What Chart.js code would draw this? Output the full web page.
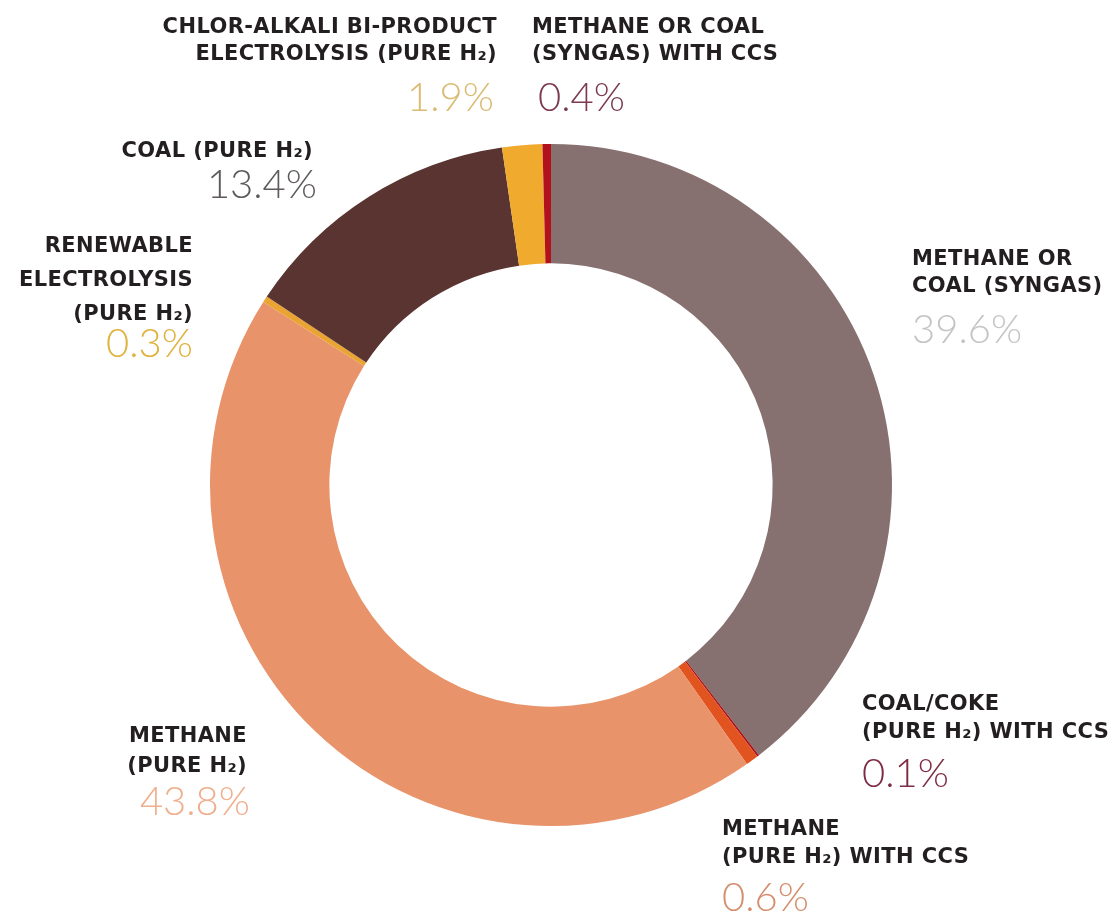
<!DOCTYPE html>
<html>
<head>
<meta charset="utf-8">
<script src="https://cdn.jsdelivr.net/npm/chart.js@4"></script>
<style>
  html, body { margin: 0; padding: 0; background: #ffffff; }
  #wrap { width: 1113px; height: 914px; position: relative; }
</style>
</head>
<body>
<div id="wrap"><canvas id="c" width="1113" height="914"></canvas></div>
<script>
// ---- data (clockwise from 12 o'clock) ----
const categories = [
  'Methane or coal (syngas)',
  'Coal/coke (pure H₂) with CCS',
  'Methane (pure H₂) with CCS',
  'Methane (pure H₂)',
  'Renewable electrolysis (pure H₂)',
  'Coal (pure H₂)',
  'Chlor-alkali bi-product electrolysis (pure H₂)',
  'Methane or coal (syngas) with CCS'
];
const shares = [39.6, 0.1, 0.6, 43.8, 0.3, 13.4, 1.9, 0.4];
const labelLines = [
  ['METHANE OR', 'COAL (SYNGAS)'],
  ['COAL/COKE', '(PURE H₂) WITH CCS'],
  ['METHANE', '(PURE H₂) WITH CCS'],
  ['METHANE', '(PURE H₂)'],
  ['RENEWABLE', 'ELECTROLYSIS', '(PURE H₂)'],
  ['COAL (PURE H₂)'],
  ['CHLOR-ALKALI BI-PRODUCT', 'ELECTROLYSIS (PURE H₂)'],
  ['METHANE OR COAL', '(SYNGAS) WITH CCS']
];

// ---- styles ----
const sliceColors = ['#877170', '#a8141e', '#e2541f', '#e8936a', '#e9a434', '#5a3430', '#f0aa2e', '#b3121c'];
const pctColors   = ['#c4c4c4', '#7e2c44', '#d48e6e', '#f0ae8c', '#e0b23e', '#5f5a5a', '#d9bb72', '#7c3a4f'];

// ---- label layout (pixel positions of text blocks) ----
const labelLayout = [
  { align: 'left',  x: 912, lines: [265, 292],      pct: 343, px: 912 },
  { align: 'left',  x: 862, lines: [710, 738],      pct: 787, px: 862 },
  { align: 'left',  x: 722, lines: [835, 863],      pct: 911, px: 722 },
  { align: 'right', x: 247, lines: [742, 772],      pct: 815, px: 250 },
  { align: 'right', x: 193, lines: [252, 286, 320], pct: 357, px: 193 },
  { align: 'right', x: 313, lines: [157],           pct: 198, px: 317 },
  { align: 'right', x: 497, lines: [33, 60],        pct: 111, px: 494 },
  { align: 'left',  x: 532, lines: [33, 60],        pct: 111, px: 538 }
];

const labelPlugin = {
  id: 'sliceLabels',
  afterDraw(chart) {
    const ctx = chart.ctx;
    ctx.save();
    labelLayout.forEach((L, i) => {
      ctx.textAlign = L.align;
      ctx.textBaseline = 'alphabetic';
      ctx.fillStyle = '#231f20';
      ctx.font = 'bold 21px "DejaVu Sans", sans-serif';
      if ('letterSpacing' in ctx) ctx.letterSpacing = '0.4px';
      labelLines[i].forEach((t, k) => ctx.fillText(t, L.x, L.lines[k]));
      if ('letterSpacing' in ctx) ctx.letterSpacing = '0px';
      ctx.fillStyle = pctColors[i];
      ctx.font = '300 40px Lato, "Open Sans", sans-serif';
      ctx.fillText(shares[i].toFixed(1) + '%', L.px, L.pct);
    });
    ctx.restore();
  }
};

new Chart(document.getElementById('c'), {
  type: 'doughnut',
  data: {
    labels: categories,
    datasets: [{
      data: shares,
      backgroundColor: sliceColors,
      borderWidth: 0
    }]
  },
  options: {
    responsive: false,
    animation: false,
    cutout: '65%',
    rotation: 0,
    layout: { padding: { left: 210, right: 221, top: 144, bottom: 88 } },
    plugins: { legend: { display: false }, tooltip: { enabled: false } }
  },
  plugins: [labelPlugin]
});
</script>
</body>
</html>
